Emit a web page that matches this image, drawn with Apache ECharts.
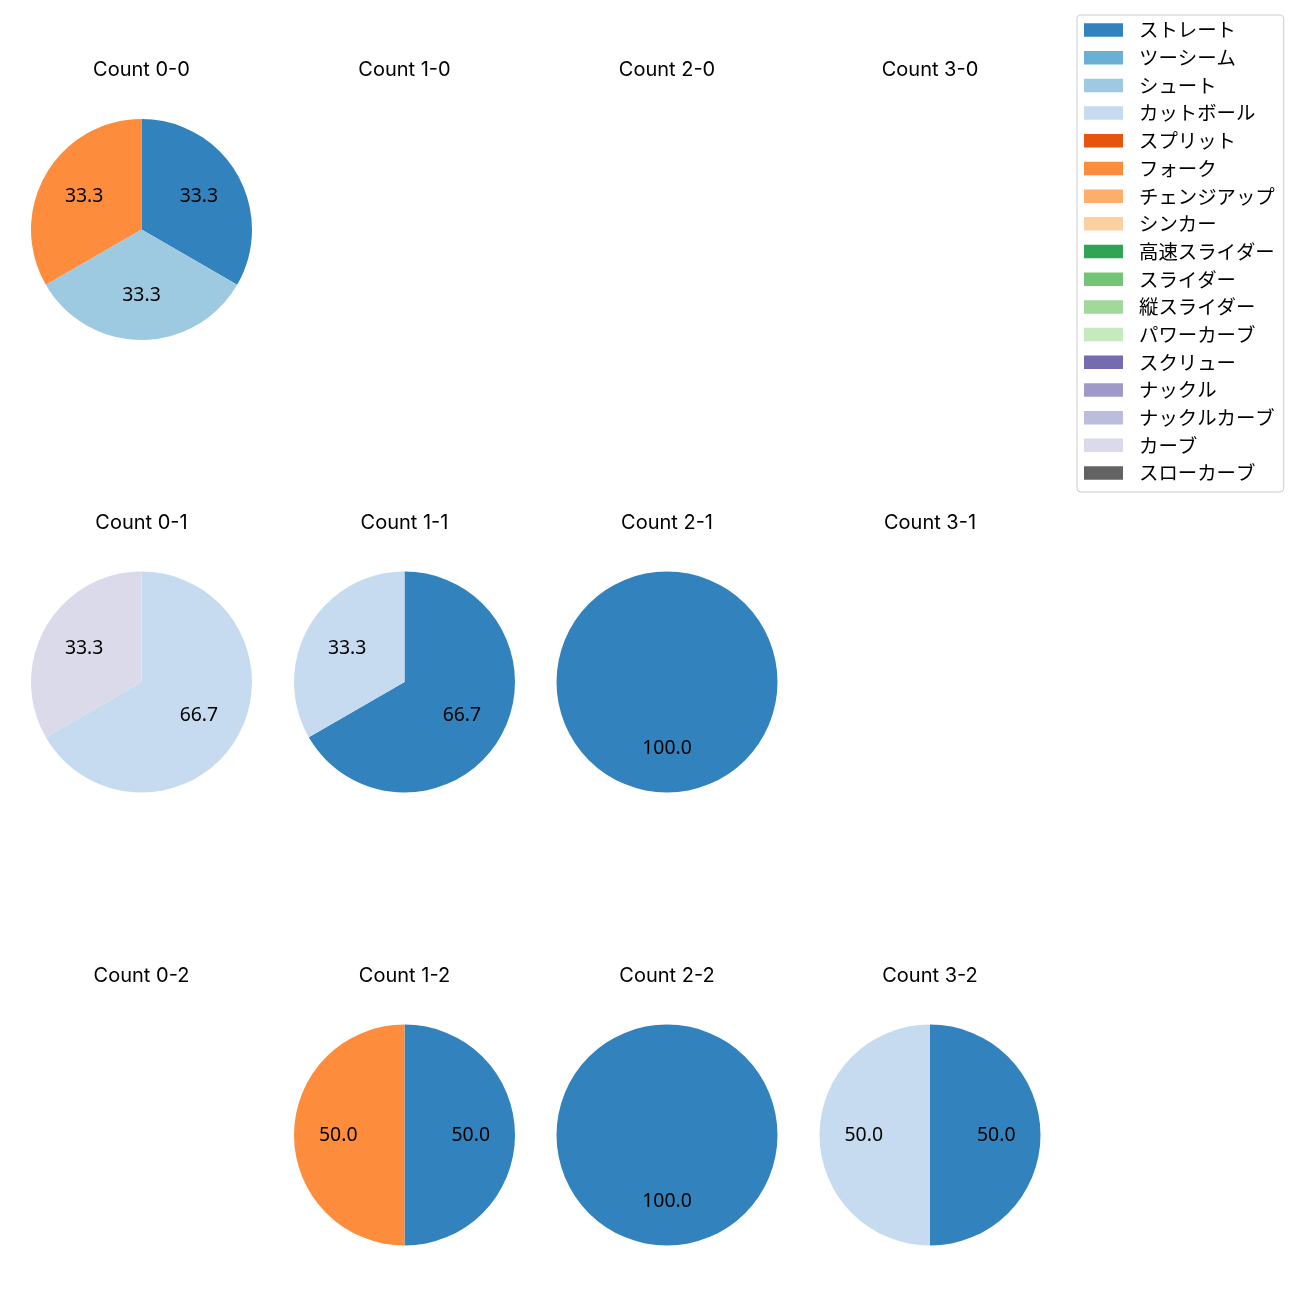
<!DOCTYPE html>
<html>
<head>
<meta charset="utf-8">
<script src="https://cdn.jsdelivr.net/npm/echarts@6/dist/echarts.min.js"></script>
<style>
html,body{margin:0;padding:0;background:#fff;}
#chart{width:1300px;height:1300px;}
</style>
</head>
<body>
<div id="chart"></div>
<script>
// Pitch types (legend order)
const pitchTypes = ['ストレート','ツーシーム','シュート','カットボール','スプリット','フォーク','チェンジアップ','シンカー','高速スライダー','スライダー','縦スライダー','パワーカーブ','スクリュー','ナックル','ナックルカーブ','カーブ','スローカーブ'];
const pitchColors = ['#3182bd','#6baed6','#9ecae1','#c6dbef','#e6550d','#fd8d3c','#fdae6b','#fdd0a2','#31a354','#74c476','#a1d99b','#c7e9c0','#756bb1','#9e9ac8','#bcbddc','#dadaeb','#636363'];

// Panel titles (column = balls, row = strikes)
const panelTitles = [
  ['Count 0-0','Count 1-0','Count 2-0','Count 3-0'],
  ['Count 0-1','Count 1-1','Count 2-1','Count 3-1'],
  ['Count 0-2','Count 1-2','Count 2-2','Count 3-2']
];

// Pitch counts per panel, in pitchTypes order
const count00 = [1,0,1,0,0,1,0,0,0,0,0,0,0,0,0,0,0];
const count10 = [0,0,0,0,0,0,0,0,0,0,0,0,0,0,0,0,0];
const count20 = [0,0,0,0,0,0,0,0,0,0,0,0,0,0,0,0,0];
const count30 = [0,0,0,0,0,0,0,0,0,0,0,0,0,0,0,0,0];
const count01 = [0,0,0,2,0,0,0,0,0,0,0,0,0,0,0,1,0];
const count11 = [2,0,0,1,0,0,0,0,0,0,0,0,0,0,0,0,0];
const count21 = [1,0,0,0,0,0,0,0,0,0,0,0,0,0,0,0,0];
const count31 = [0,0,0,0,0,0,0,0,0,0,0,0,0,0,0,0,0];
const count02 = [0,0,0,0,0,0,0,0,0,0,0,0,0,0,0,0,0];
const count12 = [1,0,0,0,0,1,0,0,0,0,0,0,0,0,0,0,0];
const count22 = [1,0,0,0,0,0,0,0,0,0,0,0,0,0,0,0,0];
const count32 = [1,0,0,1,0,0,0,0,0,0,0,0,0,0,0,0,0];

const panelCounts = [
  [count00,count10,count20,count30],
  [count01,count11,count21,count31],
  [count02,count12,count22,count32]
];

const CJK = '"Noto Sans CJK JP", "Noto Sans", sans-serif';
const LATIN_LABEL = '"Noto Sans", sans-serif';
const LATIN_TITLE = 'Inter, "Noto Sans", sans-serif';
const colX = [141.5, 404.5, 667, 930];
const rowY = [229.5, 682, 1135];
const R = 110.5;
const FS = 19.4;

const titles = [];
const series = [];

// Hidden provider so every pitch type appears in the legend
series.push({
  type: 'pie', name: 'legend', radius: 0, center: [-2000, -2000], silent: true,
  label: {show: false}, labelLine: {show: false},
  data: pitchTypes.map((n, i) => ({name: n, value: 1, itemStyle: {color: pitchColors[i]}}))
});

for (let r = 0; r < 3; r++) {
  for (let c = 0; c < 4; c++) {
    titles.push({
      text: panelTitles[r][c], left: colX[c], top: rowY[r] - 169.5, textAlign: 'center', padding: 0,
      textStyle: {fontFamily: LATIN_TITLE, fontSize: 20, fontWeight: 'normal', color: '#000', lineHeight: 20}
    });
    const data = [];
    panelCounts[r][c].forEach((v, i) => {
      if (v > 0) data.push({name: pitchTypes[i], value: v, itemStyle: {color: pitchColors[i]}});
    });
    if (!data.length) continue;
    series.push({
      type: 'pie', center: [colX[c], rowY[r]], radius: [0, R], startAngle: 90, clockwise: true,
      itemStyle: {borderWidth: 0}, label: {show: false}, labelLine: {show: false},
      emphasis: {disabled: true}, silent: true, data: data
    });
    series.push({
      type: 'pie', center: [colX[c], rowY[r]], radius: [0, R * 1.145], startAngle: 90, clockwise: true,
      avoidLabelOverlap: false, silent: true, emphasis: {disabled: true},
      itemStyle: {color: 'rgba(0,0,0,0)', borderWidth: 0},
      label: {show: true, position: 'inside', fontFamily: LATIN_LABEL, fontSize: FS, color: '#000',
        formatter: p => p.percent.toFixed(1)},
      labelLine: {show: false},
      data: data.map(d => ({name: d.name, value: d.value, itemStyle: {color: 'rgba(0,0,0,0)'}}))
    });
  }
}

const chart = echarts.init(document.getElementById('chart'), null, {renderer: 'canvas'});
chart.setOption({
  animation: false,
  backgroundColor: '#fff',
  title: titles,
  legend: {
    orient: 'vertical', left: 1077, top: 15,
    data: pitchTypes,
    icon: 'rect', itemWidth: 39, itemHeight: 13.5, itemGap: 8.3,
    padding: [5.3, 9, 9.3, 7],
    backgroundColor: '#fff', borderColor: '#cccccc', borderWidth: 1, borderRadius: 4,
    selectedMode: false,
    textStyle: {fontFamily: CJK, fontSize: FS, color: '#000', lineHeight: 18, padding: [0, 0, 0, 11]}
  },
  series: series
});
</script>
</body>
</html>
